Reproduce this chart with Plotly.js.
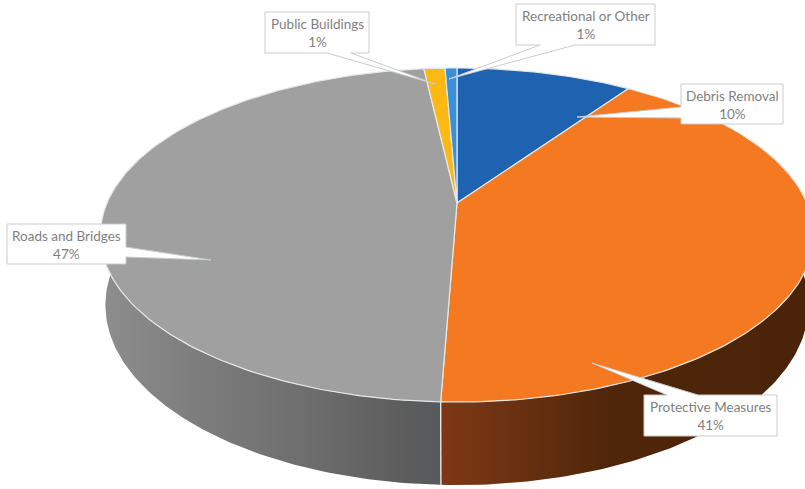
<!DOCTYPE html>
<html>
<head>
<meta charset="utf-8">
<script src="https://cdn.plot.ly/plotly-3.0.1.min.js"></script>
<style>html,body{margin:0;padding:0;background:#fff}#chart{width:805px;height:489px}</style>
</head>
<body>
<div id="chart"></div>
<script>
// Data, clockwise from the top of the pie
var categories = ["Debris Removal", "Protective Measures", "Roads and Bridges", "Public Buildings", "Recreational or Other"];
var shares = [9.6, 41.0, 47.6, 1.15, 0.65];
var shareLabels = ["10%", "41%", "47%", "1%", "1%"];
var sliceColors = ["#1f63b0", "#f47920", "#a0a0a0", "#fdb913", "#3a8fd6"];

// Tilted-disc projection used as the "scale" from share to screen position
var cx = 457, cy = 203, A = 350, B = 160.9, K = 0.1916;
var baseX = 0.986, baseY = 1.078, baseDrop = 67.5;
function project(frac, sx, sy, dy) {
  var t = 2 * Math.PI * frac, u = Math.sin(t), v = Math.cos(t), d = 1 + K * v;
  return [cx + sx * A * u / d, cy + dy - sy * B * v / d];
}
function arc(f0, f1, sx, sy, dy) {
  var n = Math.max(2, Math.ceil(Math.abs(f1 - f0) * 400)), pts = [];
  for (var i = 0; i <= n; i++) pts.push(project(f0 + (f1 - f0) * i / n, sx, sy, dy));
  return pts;
}
var total = shares.reduce(function (a, b) { return a + b; }, 0);
var cum = [0];
shares.forEach(function (s, i) { cum.push(cum[i] + s / total); });

var traces = [];
function poly(pts, extra) {
  var t = {
    type: "scatter", mode: "lines", hoverinfo: "skip", showlegend: false, fill: "toself",
    x: pts.map(function (p) { return p[0]; }), y: pts.map(function (p) { return p[1]; })
  };
  for (var k in extra) t[k] = extra[k];
  traces.push(t);
}
// Rim: protective measures and roads are the only slices facing the viewer
function rim(f0, f1, stops) {
  var pts = arc(f0, f1, 1, 1, 0).concat(arc(f1, f0, baseX, baseY, baseDrop));
  pts.push(pts[0]);
  poly(pts, {
    line: { color: "rgba(255,255,255,0)", width: 0 },
    fillgradient: { type: "horizontal", colorscale: stops }
  });
}
rim(cum[2], 0.85, [[0, "#8e8e8e"], [0.3, "#7c7c7c"], [0.6, "#6e6e6e"], [0.9, "#5c5c5c"], [1, "#555a5c"]]);
rim(0.15, cum[2], [[0, "#7e3715"], [0.15, "#6f3312"], [0.45, "#4f260a"], [1, "#4a2308"]]);
// seam between rim sections
var seamA = project(cum[2], 1, 1, 0), seamB = project(cum[2], baseX, baseY, baseDrop);
traces.push({
  type: "scatter", mode: "lines", hoverinfo: "skip", showlegend: false,
  x: [seamA[0], seamB[0]], y: [seamA[1], seamB[1]], line: { color: "#eef0f0", width: 1.3 }
});
// Top faces
shares.forEach(function (s, i) {
  var pts = [[cx, cy]].concat(arc(cum[i], cum[i + 1], 1, 1, 0));
  pts.push([cx, cy]);
  poly(pts, { fillcolor: sliceColors[i], line: { color: "#e4e8ea", width: 1.2 } });
});

// Callouts: box with pointer, outline drawn as one path
var callouts = [
  { box: [681, 84, 783, 124], side: "left", base: [107, 118], tip: [577, 117], text: 0 },
  { box: [644, 395, 777, 436], side: "top", base: [667, 698], tip: [592, 363], text: 1 },
  { box: [7, 224, 126, 264], side: "right", base: [247, 257], tip: [211, 260], text: 2 },
  { box: [265, 12, 369, 53], side: "bottom", base: [327, 351], tip: [435, 84], text: 3 },
  { box: [516, 4, 655, 45], side: "bottom", base: [540, 575], tip: [449, 79], text: 4 }
];
var shapes = [], annotations = [];
callouts.forEach(function (c) {
  var x0 = c.box[0], y0 = c.box[1], x1 = c.box[2], y1 = c.box[3], b = c.base;
  var tip = c.tip[0] + " " + c.tip[1], d;
  if (c.side === "left") d = "M" + x0 + " " + y0 + " H" + x1 + " V" + y1 + " H" + x0 + " V" + b[1] + " L" + tip + " L" + x0 + " " + b[0] + " Z";
  if (c.side === "right") d = "M" + x0 + " " + y0 + " H" + x1 + " V" + b[0] + " L" + tip + " L" + x1 + " " + b[1] + " V" + y1 + " H" + x0 + " Z";
  if (c.side === "top") d = "M" + x0 + " " + y0 + " H" + b[0] + " L" + tip + " L" + b[1] + " " + y0 + " H" + x1 + " V" + y1 + " H" + x0 + " Z";
  if (c.side === "bottom") d = "M" + x0 + " " + y0 + " H" + x1 + " V" + y1 + " H" + b[1] + " L" + tip + " L" + b[0] + " " + y1 + " H" + x0 + " Z";
  shapes.push({
    type: "path", path: d, xref: "x", yref: "y", layer: "above",
    fillcolor: "#ffffff", line: { color: "#c9cccd", width: 1 }
  });
  annotations.push({
    xref: "x", yref: "y", x: (x0 + x1) / 2, y: (y0 + y1) / 2 + 0.8, showarrow: false, align: "center",
    text: categories[c.text] + "<br>" + shareLabels[c.text],
    font: { family: "Lato, 'Open Sans', sans-serif", size: 13.5, color: "#7f7f7f" }
  });
});

var layout = {
  width: 805, height: 489, margin: { l: 0, r: 0, t: 0, b: 0 },
  paper_bgcolor: "#ffffff", plot_bgcolor: "#ffffff", showlegend: false,
  xaxis: { range: [0, 805], visible: false, fixedrange: true },
  yaxis: { range: [489, 0], visible: false, fixedrange: true },
  shapes: shapes, annotations: annotations
};
Plotly.newPlot("chart", traces, layout, { displayModeBar: false, staticPlot: true });
</script>
</body>
</html>
